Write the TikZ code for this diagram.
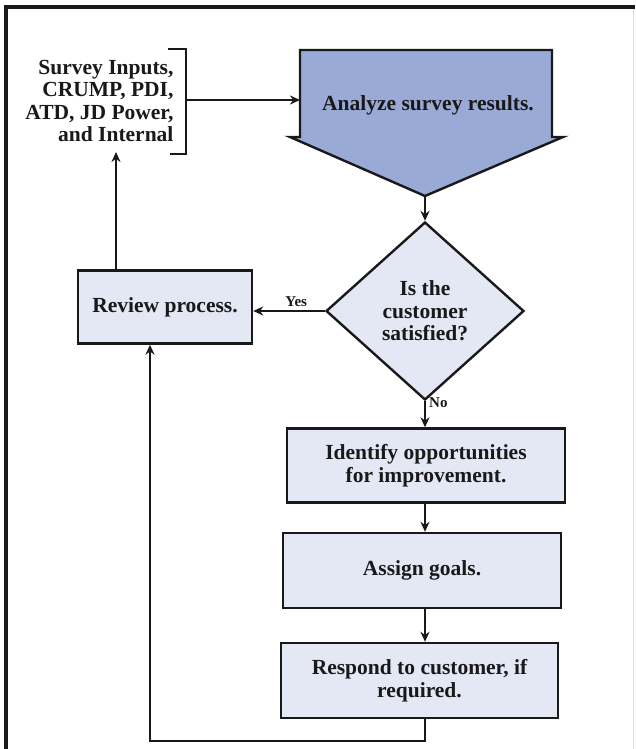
\documentclass[tikz,border=0pt]{standalone}
\usepackage{fontspec}
\setmainfont{Liberation Serif}
\usetikzlibrary{shapes.geometric,arrows.meta,positioning}
\definecolor{headblue}{RGB}{154,170,214}
\definecolor{boxfill}{RGB}{228,232,244}
\definecolor{ink}{RGB}{25,25,25}

\begin{document}
\begin{tikzpicture}[x=1pt, y=-1pt,
  txt/.style={font=\bfseries\fontsize{21.5}{22.5}\selectfont, text=ink, align=center},
  box/.style={txt, draw=ink, line width=2.4pt, fill=boxfill, inner sep=0pt},
  decide/.style={box, diamond, minimum width=198pt, minimum height=178pt},
  arr/.style={-{Stealth[length=10pt, width=9pt]}, line width=1.8pt, draw=ink},
  lbl/.style={font=\bfseries\fontsize{15}{17}\selectfont, text=ink}
]
  \useasboundingbox (0,0) rectangle (635,749);
  % frame
  \draw[line width=4pt, ink] (6,749) -- (6,7) -- (635,7);
  \draw[line width=0.6pt, gray!25] (633,9) -- (633,749);

  % inputs with bracket
  \node[txt, align=right, anchor=east] (inputs) at (177,101)
    {Survey Inputs,\\CRUMP, PDI,\\ATD, JD Power,\\and Internal};
  \draw[line width=2pt, ink] (168,49) -- (186,49) -- (186,154) -- (170,154);
  \coordinate (brk) at (186,100);
  \coordinate (up)  at (116,152);

  % analyze (block arrow)
  \draw[line width=2.4pt, ink, fill=headblue, line join=miter]
    (300,50) -- (552,50) -- (552,137) -- (563,137) -- (425,196)
    -- (290,137) -- (300,137) -- cycle;
  \node[txt] (analyze) at (428,105) {Analyze survey results.};
  \coordinate (inL) at (300,100);
  \coordinate (tip) at (425,196);

  % decision and steps
  \node[decide]  (dec)     at (425,311) {Is the\\customer\\satisfied?};
  \node[box, minimum width=174pt, minimum height=73pt] (review)  at (165,307) {Review process.};
  \node[box, minimum width=278pt, minimum height=74pt] (ident)   at (426,465.5) {Identify opportunities\\for improvement.};
  \node[box, minimum width=278pt, minimum height=75pt] (assign)  at (422,570.5) {Assign goals.};
  \node[box, minimum width=277pt, minimum height=75pt] (respond) at (419.5,680.5) {Respond to customer, if\\required.};
  \coordinate (loop) at (150,741);

  % connectors
  \draw[arr] (brk) -- (inL);
  \draw[arr] (tip) -- (dec.north);
  \draw[arr] (dec.west) -- node[lbl, above, pos=0.4] {Yes} (dec.west -| review.east);
  \draw[arr] (review.north -| up) -- (up);
  \draw[arr] (dec.south) -- node[lbl, anchor=west, pos=0.05] {No} (ident.north -| dec);
  \draw[arr] (ident.south -| dec) -- (assign.north -| dec);
  \draw[arr] (assign.south -| dec) -- (respond.north -| dec);
  \draw[arr] (respond.south -| dec) |- (loop) -- (loop |- review.south);
\end{tikzpicture}
\end{document}
